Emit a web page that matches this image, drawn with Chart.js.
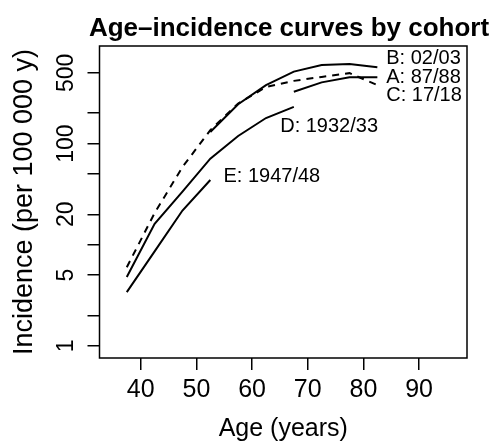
<!DOCTYPE html>
<html>
<head>
<meta charset="utf-8">
<script src="https://cdn.jsdelivr.net/npm/chart.js@4.4.1/dist/chart.umd.min.js"></script>
<style>
  html, body { margin: 0; padding: 0; background: #fff; }
  canvas { display: block; }
</style>
</head>
<body>
<canvas id="c" width="491" height="443"></canvas>
<script>
// ---- data ----
const ages = [37.5, 42.5, 47.5, 52.5, 57.5, 62.5, 67.5, 72.5, 77.5, 82.5];
const seriesA = [6.0, 20.6, 58.7, 136, 249, 362, 417, 456, 497, 379];      // A: 87/88 (dashed)
const seriesB = [null, null, null, 130, 245, 379, 515, 598, 612, 567];     // B: 02/03
const seriesC = [null, null, null, null, null, null, 326, 403, 452, 452];  // C: 17/18
const seriesD = [4.8, 16.1, 33.5, 71, 119, 179, 231, null, null, null];    // D: 1932/33
const seriesE = [3.4, 8.6, 21.8, 43.7, null, null, null, null, null, null];// E: 1947/48

const seriesNames = ['A: 87/88', 'B: 02/03', 'C: 17/18', 'D: 1932/33', 'E: 1947/48'];
const labelAges   = [84.1, 84.1, 84.1, 65.05, 54.86];
const labelValues = [450, 697, 297, 147, 47.1];

const xTicks = [40, 50, 60, 70, 80, 90];
const xTickLabels = ['40', '50', '60', '70', '80', '90'];
const yTicks = [1, 2, 5, 10, 20, 50, 100, 200, 500];
const yTickLabels = ['1', '', '5', '', '20', '', '100', '', '500'];

const titleText = 'Age\u2013incidence curves by cohort';
const xTitle = 'Age (years)';
const yTitle = 'Incidence (per 100 000 y)';

const FONT = '"Liberation Sans", Arial, Helvetica, sans-serif';

function pts(vals) {
  return ages.map((a, i) => ({ x: a, y: vals[i] }));
}

function ds(label, vals, dashed) {
  return {
    label: label,
    data: pts(vals),
    borderColor: '#000',
    backgroundColor: '#000',
    borderWidth: 2,
    borderDash: dashed ? [7, 6] : [],
    pointRadius: 0,
    tension: 0,
    fill: false,
    spanGaps: false
  };
}

const decor = {
  id: 'decor',
  afterDraw(chart) {
    const ctx = chart.ctx;
    const ca = chart.chartArea;
    const xs = chart.scales.x, ys = chart.scales.y;
    ctx.save();
    // frame
    ctx.strokeStyle = '#000';
    ctx.lineWidth = 1.5;
    ctx.strokeRect(ca.left, ca.top, ca.right - ca.left, ca.bottom - ca.top);
    ctx.fillStyle = '#000';
    // title
    ctx.font = 'bold 26px ' + FONT;
    ctx.textAlign = 'center';
    ctx.textBaseline = 'alphabetic';
    ctx.fillText(titleText, 289, 36);
    // x tick labels
    ctx.font = '25px ' + FONT;
    xTicks.forEach((v, i) => {
      ctx.fillText(xTickLabels[i], xs.getPixelForValue(v), 396.5);
    });
    // x title
    ctx.font = '25px ' + FONT;
    ctx.fillText(xTitle, (ca.left + ca.right) / 2, 436);
    // y tick labels (rotated)
    ctx.font = '23px ' + FONT;
    yTicks.forEach((v, i) => {
      if (!yTickLabels[i]) return;
      ctx.save();
      ctx.translate(73, ys.getPixelForValue(v));
      ctx.rotate(-Math.PI / 2);
      ctx.fillText(yTickLabels[i], 0, 0);
      ctx.restore();
    });
    // y title
    ctx.save();
    ctx.font = '27px ' + FONT;
    ctx.translate(31.5, (ca.top + ca.bottom) / 2);
    ctx.rotate(-Math.PI / 2);
    ctx.fillText(yTitle, 0, 0);
    ctx.restore();
    // series labels
    ctx.font = '20px ' + FONT;
    ctx.textAlign = 'left';
    ctx.textBaseline = 'middle';
    seriesNames.forEach((n, i) => {
      ctx.fillText(n, xs.getPixelForValue(labelAges[i]), ys.getPixelForValue(labelValues[i]));
    });
    ctx.restore();
  }
};

new Chart(document.getElementById('c'), {
  type: 'line',
  data: {
    datasets: [
      ds(seriesNames[0], seriesA, true),
      ds(seriesNames[1], seriesB, false),
      ds(seriesNames[2], seriesC, false),
      ds(seriesNames[3], seriesD, false),
      ds(seriesNames[4], seriesE, false)
    ]
  },
  options: {
    responsive: false,
    animation: false,
    devicePixelRatio: 1,
    layout: { padding: { left: 87.5, right: 24, top: 46, bottom: 73 } },
    plugins: { legend: { display: false }, tooltip: { enabled: false }, title: { display: false } },
    scales: {
      x: {
        type: 'linear',
        min: 32.6, max: 98.6,
        bounds: 'data',
        afterBuildTicks: (s) => { s.ticks = xTicks.map(v => ({ value: v })); },
        afterFit: (s) => { s.height = 12; },
        ticks: { display: false },
        grid: { drawOnChartArea: false, drawTicks: true, tickLength: 12, color: '#000', lineWidth: 1.5 },
        border: { display: false }
      },
      y: {
        type: 'logarithmic',
        min: 0.76, max: 922,
        bounds: 'data',
        afterBuildTicks: (s) => { s.ticks = yTicks.map(v => ({ value: v })); },
        afterFit: (s) => { s.width = 12; },
        ticks: { display: false },
        grid: { drawOnChartArea: false, drawTicks: true, tickLength: 12, color: '#000', lineWidth: 1.5 },
        border: { display: false }
      }
    }
  },
  plugins: [decor]
});
</script>
</body>
</html>
